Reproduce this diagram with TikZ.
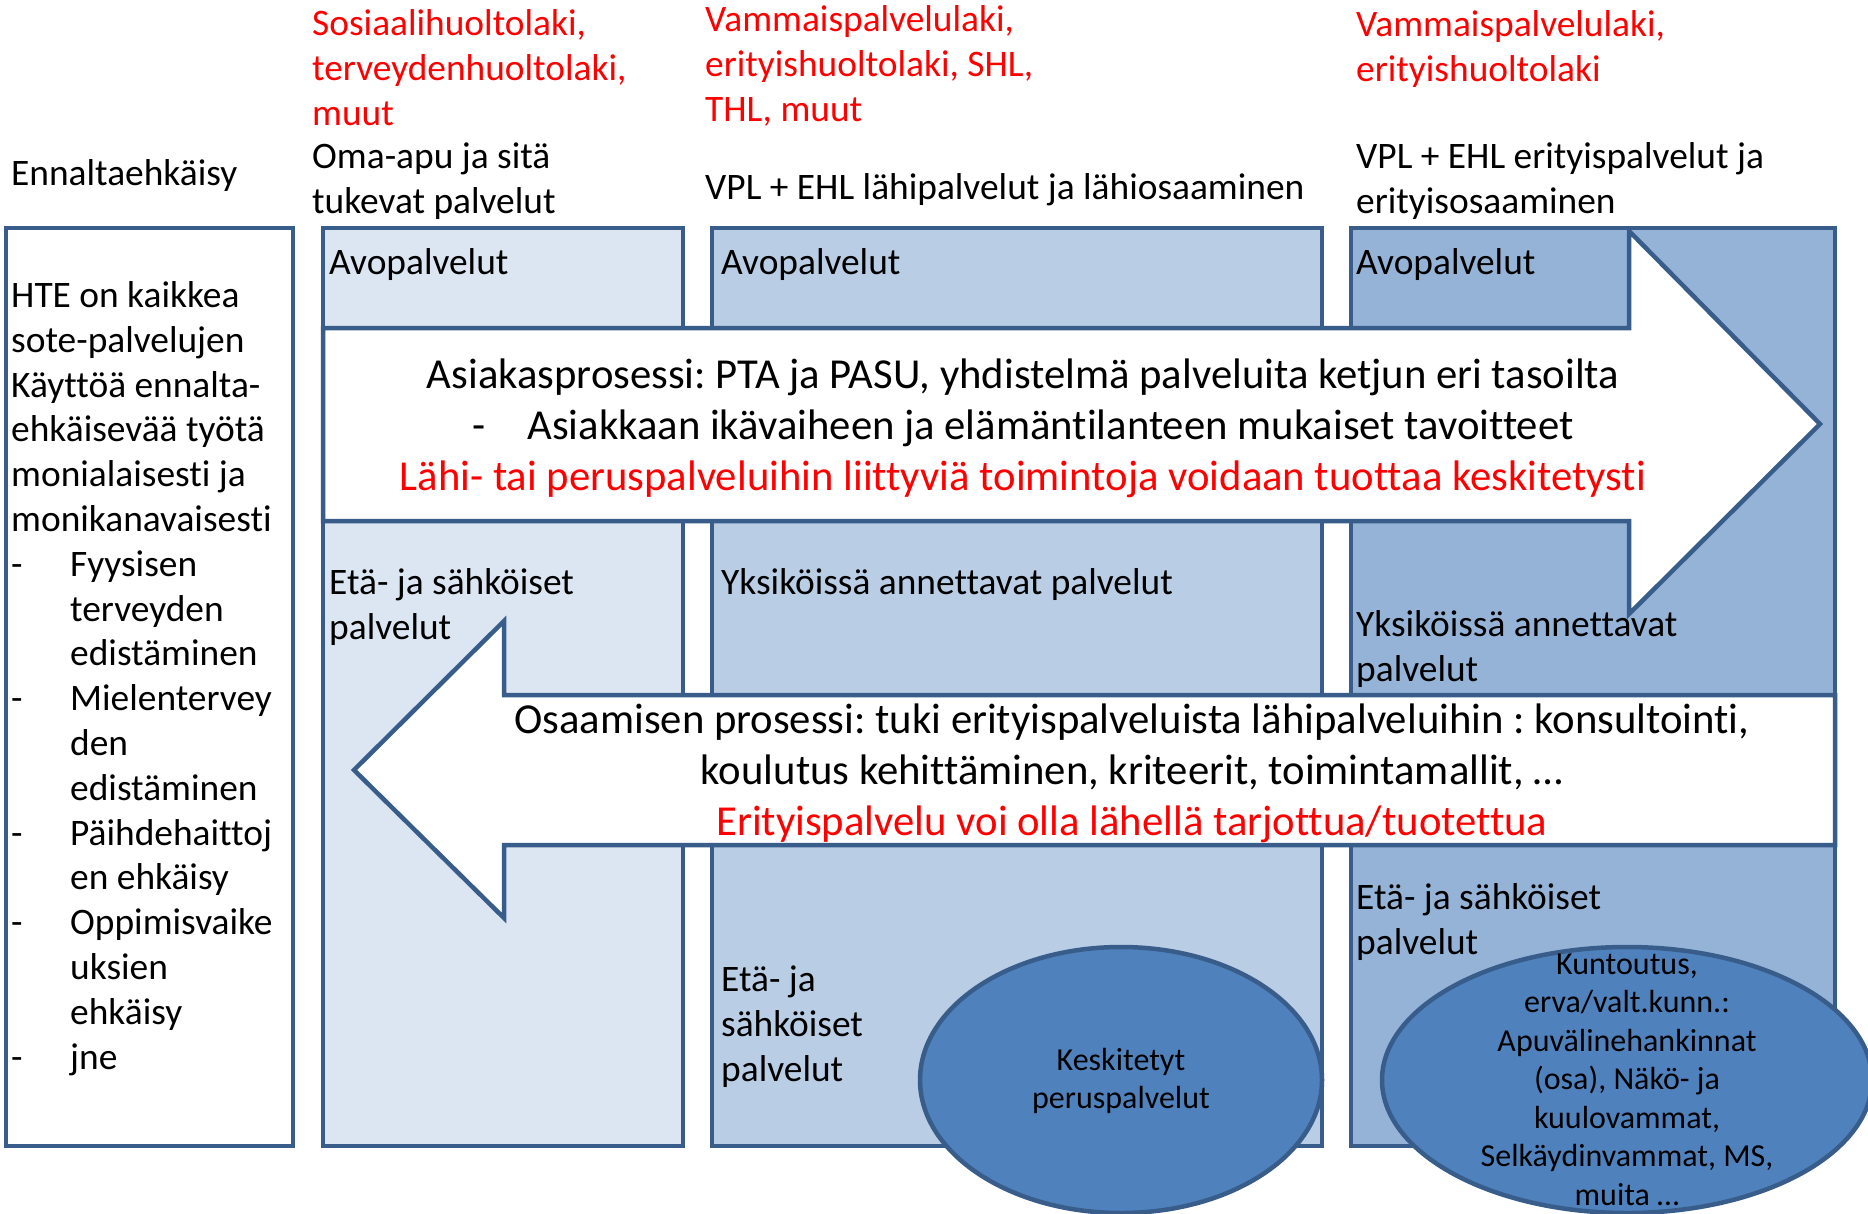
\documentclass[tikz,border=0pt]{standalone}
\usepackage{fontspec}
\setmainfont{Carlito}[Ligatures={NoCommon}]
\usetikzlibrary{shapes.geometric}
\definecolor{bord}{RGB}{56,93,138}
\definecolor{fillA}{RGB}{220,230,242}
\definecolor{fillB}{RGB}{185,205,229}
\definecolor{fillC}{RGB}{149,179,215}
\definecolor{ellfill}{RGB}{79,129,189}
\definecolor{redtxt}{RGB}{255,0,0}
\begin{document}
\frenchspacing
\begin{tikzpicture}[x=1pt,y=-1pt,
  box/.style={draw=bord, line width=4.5pt, line join=miter},
  bigarrow/.style={draw=bord, fill=white, line width=4.5pt, line join=miter},
  oval/.style={draw=bord, fill=ellfill, line width=4.5pt},
  txt/.style={inner sep=0pt, align=left, anchor=north west, font=\fontsize{37.4}{44.8}\selectfont},
  rtxt/.style={txt, text=redtxt},
  atxt/.style={inner sep=0pt, align=center, anchor=north, font=\fontsize{42.7}{51}\selectfont},
  etxt/.style={inner sep=0pt, align=center, anchor=north, font=\fontsize{32}{38.5}\selectfont}]
\useasboundingbox (0,0) rectangle (1868,1213);
\fill[white] (0,0) rectangle (1868,1213);

% columns
\draw[box, fill=white] (6,228) rectangle (293,1146);
\draw[box, fill=fillA] (323,228) rectangle (683,1146);
\draw[box, fill=fillB] (712,228) rectangle (1322,1146);
\draw[box, fill=fillC] (1351,228) rectangle (1835,1146);

% right arrow (Asiakasprosessi)
\draw[bigarrow] (323,328) -- (1629,328) -- (1629,231) -- (1820,424) -- (1629,614) -- (1629,521) -- (323,521) -- cycle;
% left arrow (Osaamisen prosessi)
\draw[bigarrow] (1835,695) -- (504,695) -- (504,621) -- (354,770) -- (504,918) -- (504,845) -- (1835,845) -- cycle;

% ellipses
\node[oval, ellipse, minimum width=402pt, minimum height=266pt, inner sep=0pt] (e1) at (1121,1080) {};
\node[oval, ellipse, minimum width=490pt, minimum height=266pt, inner sep=0pt] (e2) at (1627,1080) {};

% header texts
\node[txt] (enn) at (11,154) {\strut Ennaltaehkäisy};
\node[rtxt] (law1) at (312,4) {\strut Sosiaalihuoltolaki,\\\strut terveydenhuoltolaki,\\\strut muut};
\node[txt] (oma) at (312,137) {\strut Oma-apu ja sitä\\\strut tukevat palvelut};
\node[rtxt] (law2) at (705,0) {\strut Vammaispalvelulaki,\\\strut erityishuoltolaki, SHL,\\\strut THL, muut};
\node[txt] (vpl1) at (705,168) {\strut VPL + EHL lähipalvelut ja lähiosaaminen};
\node[rtxt] (law3) at (1356,5) {\strut Vammaispalvelulaki,\\\strut erityishuoltolaki};
\node[txt] (vpl2) at (1356,137) {\strut VPL + EHL erityispalvelut ja\\\strut erityisosaaminen};

% left box text
\node[txt] (hte) at (11,276) {\strut HTE on kaikkea\\
\strut sote-palvelujen\\
\strut Käyttöä ennalta-\\
\strut ehkäisevää työtä\\
\strut monialaisesti ja\\
\strut monikanavaisesti\\
\strut\makebox[59pt][l]{-}Fyysisen\\
\strut\hspace*{59pt}terveyden\\
\strut\hspace*{59pt}edistäminen\\
\strut\makebox[59pt][l]{-}Mielentervey\\
\strut\hspace*{59pt}den\\
\strut\hspace*{59pt}edistäminen\\
\strut\makebox[59pt][l]{-}Päihdehaittoj\\
\strut\hspace*{59pt}en ehkäisy\\
\strut\makebox[59pt][l]{-}Oppimisvaike\\
\strut\hspace*{59pt}uksien\\
\strut\hspace*{59pt}ehkäisy\\
\strut\makebox[59pt][l]{-}jne};

% column texts
\node[txt] (avo1) at (329,243) {\strut Avopalvelut};
\node[txt] (avo2) at (721,243) {\strut Avopalvelut};
\node[txt] (avo3) at (1356,243) {\strut Avopalvelut};
\node[txt] (eta1) at (329,563) {\strut Etä- ja sähköiset\\\strut palvelut};
\node[txt] (yks2) at (721,563) {\strut Yksiköissä annettavat palvelut};
\node[txt] (yks3) at (1356,605) {\strut Yksiköissä annettavat\\\strut palvelut};
\node[txt] (eta2) at (721,960) {\strut Etä- ja\\\strut sähköiset\\\strut palvelut};
\node[txt] (eta3) at (1356,878) {\strut Etä- ja sähköiset\\\strut palvelut};

% arrow texts
\node[atxt] (asiakas) at (1023,353) {\strut Asiakasprosessi: PTA ja PASU, yhdistelmä palveluita ketjun eri tasoilta\\
\strut\makebox[55pt][l]{-}Asiakkaan ikävaiheen ja elämäntilanteen mukaiset tavoitteet\\
\strut\textcolor{redtxt}{Lähi- tai peruspalveluihin liittyviä toimintoja voidaan tuottaa keskitetysti}};
\node[atxt] (osaam) at (1132,698) {\strut Osaamisen prosessi: tuki erityispalveluista lähipalveluihin : konsultointi,\\
\strut koulutus kehittäminen, kriteerit, toimintamallit, …\\
\strut\textcolor{redtxt}{Erityispalvelu voi olla lähellä tarjottua/tuotettua}};

% ellipse texts
\node[etxt] (e1t) at (1121,1043) {\strut Keskitetyt\\\strut peruspalvelut};
\node[etxt] (e2t) at (1627,947) {\strut Kuntoutus,\\\strut erva/valt.kunn.:\\\strut Apuvälinehankinnat\\\strut (osa), Näkö- ja\\\strut kuulovammat,\\\strut Selkäydinvammat, MS,\\\strut muita …};
\end{tikzpicture}
\end{document}
